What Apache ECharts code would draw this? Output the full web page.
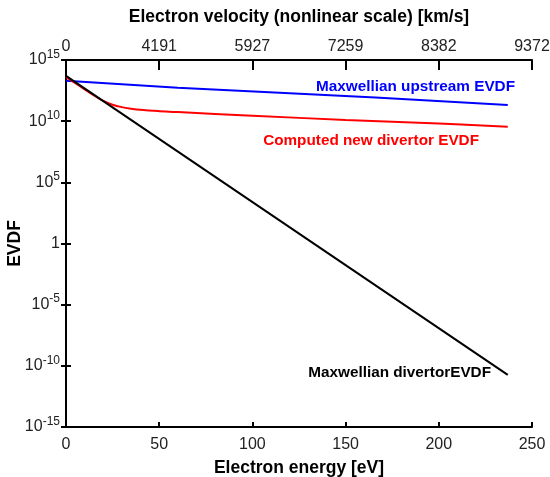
<!DOCTYPE html>
<html>
<head>
<meta charset="utf-8">
<script src="https://cdn.jsdelivr.net/npm/echarts@6/dist/echarts.min.js"></script>
<style>
  html, body { margin: 0; padding: 0; background: #fff; }
  #evdfChart { width: 550px; height: 477px; }
</style>
</head>
<body>
<div id="evdfChart"></div>
<script>
// energies in eV
var upstreamE = [0, 60, 120, 166, 237];
var upstreamF = [2.0e13, 5.5e12, 1.9e12, 8.5e11, 2.1e11];

var computedE = [0, 5, 10, 15, 20, 25, 30, 35, 40, 50, 60, 100, 150, 200, 237];
var computedF = [4.0e13, 1.26e13, 4.0e12, 1.26e12, 4.5e11, 2.2e11, 1.4e11, 1.05e11,
                 8.5e10, 6.6e10, 5.5e10, 2.8e10, 1.26e10, 6.3e9, 3.5e9];

var divertorE = [0, 237];
var divertorF = [5.0e13, 1.8e-11];

// top axis: velocity at 0, 50, ... 250 eV
var velocityLabels = ['0', '4191', '5927', '7259', '8382', '9372'];

function pairs(xs, ys) {
    return xs.map(function (x, i) { return [x, ys[i]]; });
}

function powLabel(v) {
    var e = Math.round(Math.log10(v));
    if (e === 0) return '1';
    return '10{sup|' + e + '}';
}

var chartDom = document.getElementById('evdfChart');
var myChart = echarts.init(chartDom);
var font = '"Liberation Sans", Arial, sans-serif';

var option = {
    backgroundColor: '#fff',
    animation: false,
    textStyle: { fontFamily: font },
    grid: { left: 66, right: 18, top: 60, bottom: 50, outerBoundsMode: 'none', containLabel: false },
    xAxis: [
        {
            type: 'value',
            position: 'bottom',
            min: 0, max: 250, interval: 50,
            name: 'Electron energy [eV]',
            nameLocation: 'middle',
            nameGap: 32,
            nameTextStyle: { fontSize: 17.5, fontWeight: 'bold', color: '#000', fontFamily: font },
            axisLine: { lineStyle: { color: '#000', width: 2 } },
            axisTick: { inside: true, length: 5, lineStyle: { color: '#000', width: 2 } },
            axisLabel: { fontSize: 16, color: '#222', margin: 10, fontFamily: font },
            splitLine: { show: false }
        },
        {
            type: 'value',
            position: 'top',
            min: 0, max: 250, interval: 50,
            name: 'Electron velocity (nonlinear scale) [km/s]',
            nameLocation: 'middle',
            nameGap: 34,
            nameTextStyle: { fontSize: 17.5, fontWeight: 'bold', color: '#000', fontFamily: font },
            axisLine: { lineStyle: { color: '#000', width: 2 } },
            axisTick: { inside: true, length: 10, lineStyle: { color: '#000', width: 2 } },
            axisLabel: {
                fontSize: 16, color: '#222', margin: 5, fontFamily: font,
                formatter: function (v) { return velocityLabels[Math.round(v / 50)]; }
            },
            splitLine: { show: false }
        }
    ],
    yAxis: [
        {
            type: 'log',
            logBase: 10,
            min: 1e-15, max: 1e15, interval: 5,
            name: 'EVDF',
            nameLocation: 'middle',
            nameGap: 42,
            nameMoveOverlap: false,
            nameTextStyle: { fontSize: 17.5, fontWeight: 'bold', color: '#000', fontFamily: font },
            axisLine: { show: true, lineStyle: { color: '#000', width: 2 } },
            axisTick: { inside: true, length: 5, lineStyle: { color: '#000', width: 2 } },
            axisLabel: {
                fontSize: 16, color: '#222', margin: 6, fontFamily: font,
                formatter: powLabel,
                rich: {
                    sup: { fontSize: 12, color: '#222', verticalAlign: 'bottom', padding: [0, 0, 11, 0], fontFamily: font }
                }
            },
            splitLine: { show: false }
        },
        {
            type: 'log',
            logBase: 10,
            position: 'right',
            min: 1e-15, max: 1e15, interval: 5,
            axisLine: { show: true, lineStyle: { color: '#000', width: 2 } },
            axisTick: { inside: true, length: 5, lineStyle: { color: '#000', width: 2 } },
            axisLabel: { show: false },
            splitLine: { show: false }
        }
    ],
    series: [
        {
            name: 'Maxwellian upstream EVDF',
            type: 'line',
            data: pairs(upstreamE, upstreamF),
            showSymbol: false,
            lineStyle: { color: '#0000ff', width: 2 }
        },
        {
            name: 'Computed new divertor EVDF',
            type: 'line',
            data: pairs(computedE, computedF),
            smooth: 0.4,
            showSymbol: false,
            lineStyle: { color: '#ff0000', width: 2 }
        },
        {
            name: 'Maxwellian divertorEVDF',
            type: 'line',
            data: pairs(divertorE, divertorF),
            showSymbol: false,
            lineStyle: { color: '#000', width: 2 }
        }
    ],
    graphic: [
        {
            type: 'text', right: 35, top: 79,
            style: { text: 'Maxwellian upstream EVDF', fill: '#0000ff', font: 'bold 15.3px ' + font }
        },
        {
            type: 'text', right: 71, top: 133,
            style: { text: 'Computed new divertor EVDF', fill: '#ff0000', font: 'bold 15.3px ' + font }
        },
        {
            type: 'text', right: 59, top: 365,
            style: { text: 'Maxwellian divertorEVDF', fill: '#000', font: 'bold 15.3px ' + font }
        }
    ]
};

option && myChart.setOption(option);
</script>
</body>
</html>
